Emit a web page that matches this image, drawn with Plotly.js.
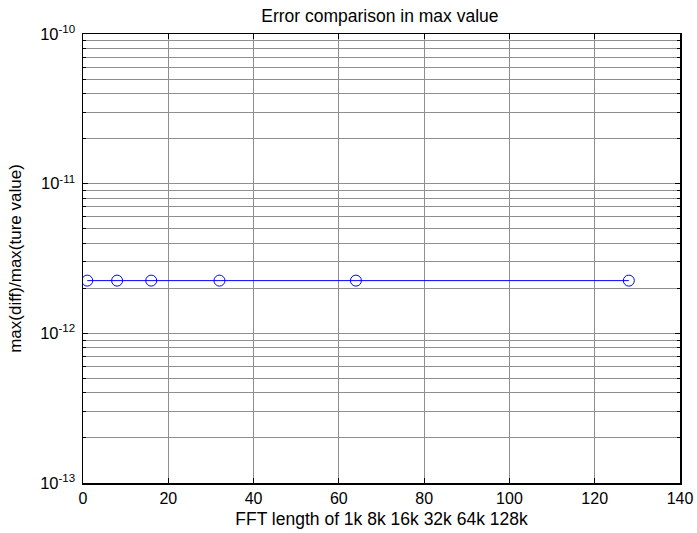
<!DOCTYPE html>
<html>
<head>
<meta charset="utf-8">
<script src="https://cdn.plot.ly/plotly-3.0.1.min.js"></script>
<style>html,body{margin:0;padding:0;background:#fff;}#chart{width:697px;height:533px;}</style>
</head>
<body>
<div id="chart"></div>
<script>
// Data
const fftLengthIndex = [1, 8, 16, 32, 64, 128];
const errorRatio = [2.25e-12, 2.25e-12, 2.25e-12, 2.25e-12, 2.25e-12, 2.25e-12];
const yTickVals = [1e-13, 1e-12, 1e-11, 1e-10];
const yTickText = ['10<sup>-13</sup>', '10<sup>-12</sup>', '10<sup>-11</sup>', '10<sup>-10</sup>'];
const xTickVals = [0, 20, 40, 60, 80, 100, 120, 140];

const minorVals = [];
[-13, -12, -11].forEach(function (e) {
  for (let m = 2; m <= 9; m++) minorVals.push(m * Math.pow(10, e));
});

const FONT = 'Liberation Sans, Arial, sans-serif';
const GRID = '#8f8f8f';

const trace = {
  x: fftLengthIndex,
  y: errorRatio,
  type: 'scatter',
  mode: 'lines+markers',
  line: {color: '#0000ff', width: 1},
  marker: {symbol: 'circle-open', size: 11, color: '#0000ff', line: {width: 1, color: '#0000ff'}},
  hoverinfo: 'x+y'
};

const layout = {
  width: 697,
  height: 533,
  paper_bgcolor: '#ffffff',
  plot_bgcolor: '#ffffff',
  margin: {l: 83, r: 17, t: 34, b: 50},
  showlegend: false,
  font: {family: FONT, size: 16, color: '#000'},
  title: {
    text: 'Error comparison in max value',
    font: {family: FONT, size: 17.5, color: '#000'},
    x: 0.545, xanchor: 'center', xref: 'container',
    y: 1 - 16 / 533, yanchor: 'middle', yref: 'container'
  },
  xaxis: {
    range: [0, 140],
    tickmode: 'array',
    tickvals: xTickVals,
    ticks: 'inside', ticklen: 5, tickcolor: '#000', tickwidth: 1,
    showline: true, linecolor: '#000', linewidth: 1.5, mirror: 'ticks',
    showgrid: true, gridcolor: GRID, gridwidth: 1,
    zeroline: false,
    tickfont: {family: FONT, size: 16, color: '#000'},
    title: {text: 'FFT length of 1k 8k 16k 32k 64k 128k', font: {family: FONT, size: 17.5, color: '#000'}, standoff: 7}
  },
  yaxis: {
    type: 'log',
    range: [-13, -10],
    tickmode: 'array',
    tickvals: yTickVals,
    ticktext: yTickText,
    ticks: 'inside', ticklen: 5, tickcolor: '#000', tickwidth: 1,
    ticklabelstandoff: 3,
    showline: true, linecolor: '#000', linewidth: 1.5, mirror: 'ticks',
    showgrid: true, gridcolor: GRID, gridwidth: 1,
    zeroline: false,
    tickfont: {family: FONT, size: 16.5, color: '#000'},
    minor: {
      tickmode: 'array', tickvals: minorVals,
      ticks: 'inside', ticklen: 3, tickcolor: '#000', tickwidth: 1,
      showgrid: true, gridcolor: GRID, gridwidth: 1
    },
    title: {text: 'max(diff)/max(ture value)', font: {family: FONT, size: 17, color: '#000'}, standoff: 14}
  }
};

Plotly.newPlot('chart', [trace], layout, {displayModeBar: false, staticPlot: true});
</script>
</body>
</html>
